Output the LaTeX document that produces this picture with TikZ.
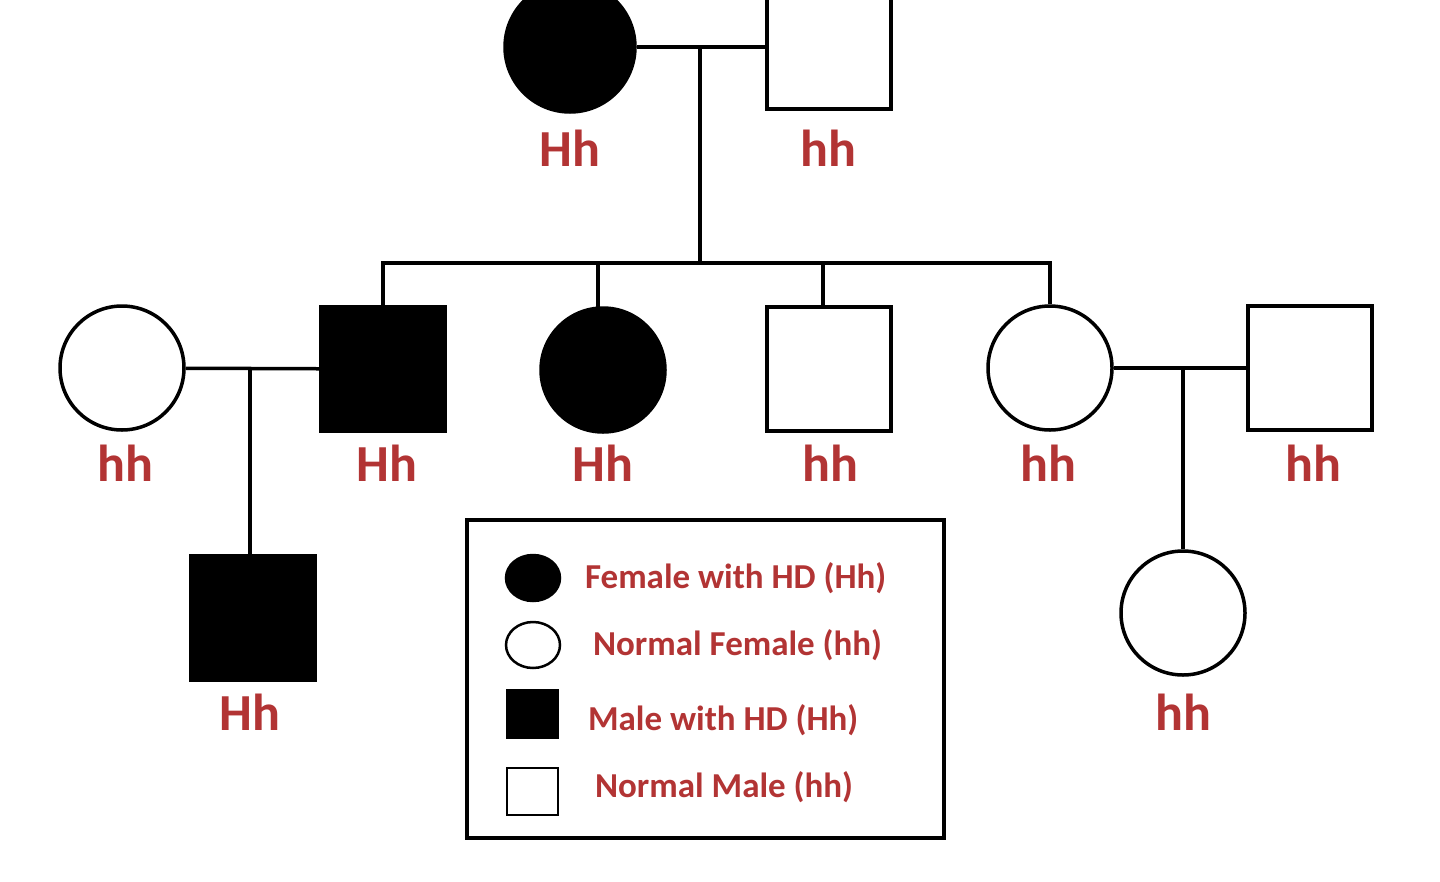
\documentclass[tikz,border=0pt]{standalone}
\usepackage{fontspec}
\setmainfont{Carlito}
\definecolor{lab}{RGB}{178,52,52}
\begin{document}
\begin{tikzpicture}[x=1pt,y=-1pt,line width=3.5pt,
 fem/.style={circle,draw,minimum size=124pt,inner sep=0pt},
 mal/.style={rectangle,draw,minimum size=124pt,inner sep=0pt},
 aff/.style={fill=black},
 gt/.style={text=lab,font=\bfseries\fontsize{52}{52}\selectfont},
 lt/.style={text=lab,font=\bfseries\fontsize{35}{35}\selectfont,anchor=west}]
\useasboundingbox (0,0) rectangle (1440,881);
\node[fem,aff,minimum size=130pt] (g1) at (570,47) {};
\node[mal] (g2) at (829,47) {};
\node[gt] at (570,148) {Hh};
\node[gt] at (828,148) {hh};
\coordinate (m1) at (700,47);
\coordinate (s1) at (700,263);
\draw (g1) -- (g2);
\draw (m1) -- (s1);
\node[fem] (a) at (122,368) {};
\node[mal,aff] (b) at (383,369) {};
\node[fem,aff] (c) at (603,370) {};
\node[mal] (d) at (829,369) {};
\node[fem] (e) at (1050,368) {};
\node[mal] (f) at (1310,368) {};
\draw (b.north) |- (s1) -| (e.north);
\draw (598,263) -- (598,307);
\draw (823,263) -- (823,307);
\draw (a) -- (b);
\draw (e) -- (f);
\node[gt] at (125,463) {hh};
\node[gt] at (387,463) {Hh};
\node[gt] at (603,463) {Hh};
\node[gt] at (830,463) {hh};
\node[gt] at (1048,463) {hh};
\node[gt] at (1313,463) {hh};
\node[mal,aff] (g) at (253,618) {};
\node[fem] (h) at (1183,613) {};
\draw (250,368) -- (250,556);
\draw (1183,370) -- (h.north);
\node[gt] at (250,712) {Hh};
\node[gt] at (1183,712) {hh};
\node[draw,minimum width=477pt,minimum height=318pt,inner sep=0pt] (leg) at (705.5,679) {};
\draw[line width=2.5pt,fill=black] (533,578) ellipse (27 and 23);
\node[lt] at (580,578) {Female with HD (Hh)};
\draw[line width=2.5pt] (533,645) ellipse (27 and 23);
\node[lt] at (588,645) {Normal Female (hh)};
\draw[line width=2.5pt,fill=black] (507,690) rectangle (558,738);
\node[lt] at (583,720) {Male with HD (Hh)};
\draw[line width=2.5pt] (507,768) rectangle (558,815);
\node[lt] at (590,787) {Normal Male (hh)};
\end{tikzpicture}
\end{document}
